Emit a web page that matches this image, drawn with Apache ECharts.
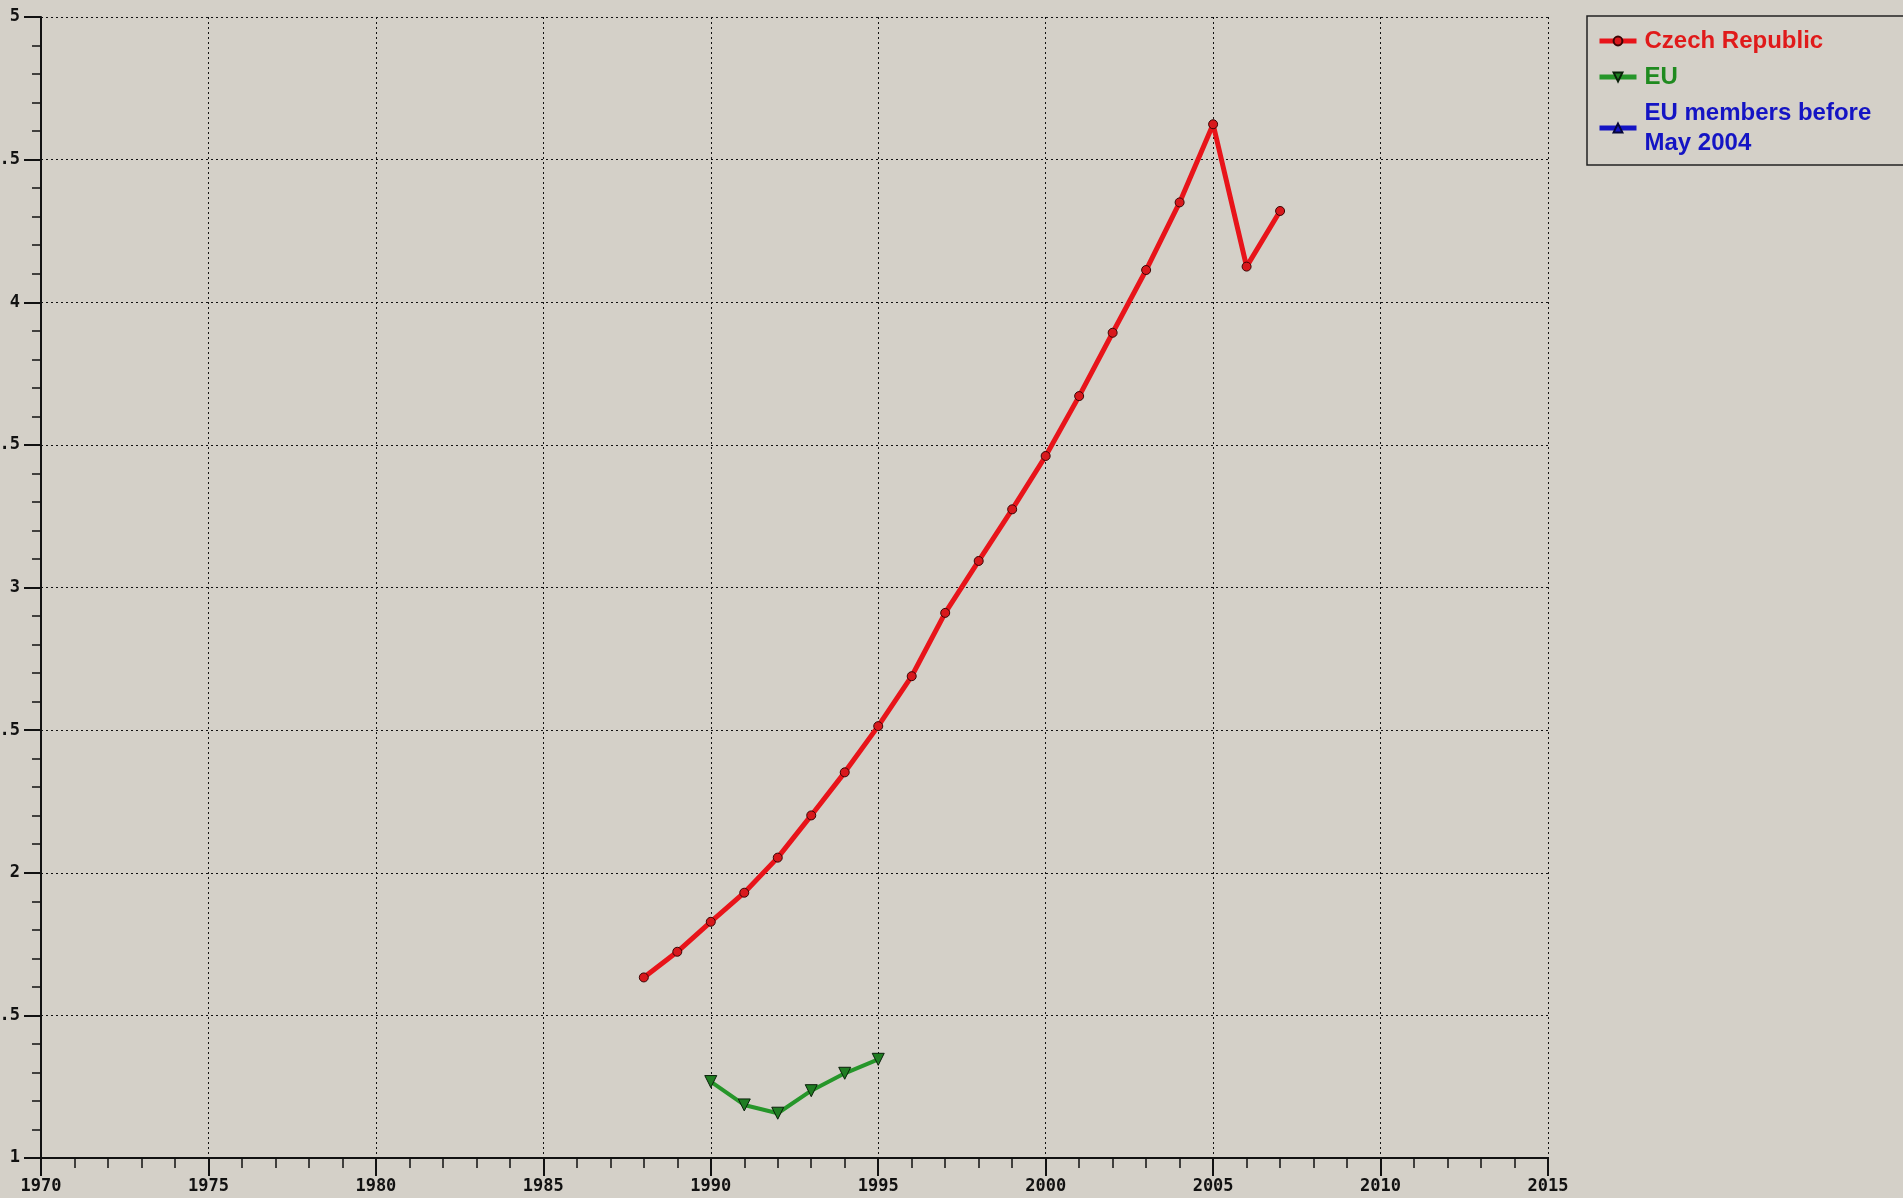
<!DOCTYPE html>
<html>
<head>
<meta charset="utf-8">
<script src="https://cdn.jsdelivr.net/npm/echarts@6/dist/echarts.min.js"></script>
<style>
  html, body { margin: 0; padding: 0; background: #d4d0c8; }
  #chart { width: 1903px; height: 1198px; }
</style>
</head>
<body>
<div id="chart"></div>
<script>
  // data
  const czechYears = [1988, 1989, 1990, 1991, 1992, 1993, 1994, 1995, 1996, 1997,
    1998, 1999, 2000, 2001, 2002, 2003, 2004, 2005, 2006, 2007]
  const czechValues = [1.633, 1.723, 1.828, 1.930, 2.053, 2.201, 2.352, 2.514, 2.689, 2.911,
    3.093, 3.274, 3.461, 3.671, 3.893, 4.113, 4.350, 4.624, 4.125, 4.320]
  const euYears = [1990, 1991, 1992, 1993, 1994, 1995]
  const euValues = [1.268, 1.186, 1.157, 1.236, 1.297, 1.346]
  const oldMemberYears = []
  const oldMemberValues = []
  const seriesNames = ['Czech Republic', 'EU', 'EU members before\nMay 2004']
  const textColors = ['#e01a1a', '#1f8a1f', '#1414c4']

  const pairs = (xs, ys) => xs.map((x, i) => [x, ys[i]])

  const axisFont = {
    fontFamily: 'DejaVu Sans Mono',
    fontWeight: 'bold',
    fontSize: 17,
    color: '#111'
  }
  const axisLine = { show: true, lineStyle: { color: '#111', width: 2 } }
  const gridLine = { show: true, lineStyle: { color: '#111', width: 1, type: [2, 3] } }

  // one rich style per legend entry so every name keeps its series colour
  const richStyles = {}
  textColors.forEach((c, i) => {
    richStyles['c' + i] = { color: c, fontFamily: 'Liberation Sans', fontWeight: 'bold', fontSize: 24, lineHeight: 30 }
  })

  let chart = echarts.init(document.getElementById('chart'))
  chart.setOption({
    backgroundColor: '#d4d0c8',
    animation: false,
    grid: { left: 41, right: 355, top: 17, bottom: 40, containLabel: false, outerBoundsMode: 'none' },
    legend: {
      orient: 'vertical',
      left: 1587,
      top: 16,
      padding: [10, 60, 7, 10],
      itemGap: 6,
      itemWidth: 37,
      itemHeight: 11,
      borderColor: '#222',
      borderWidth: 1.5,
      data: seriesNames,
      lineStyle: { width: 5 },
      formatter: name => {
        const k = 'c' + seriesNames.indexOf(name)
        return name.split('\n').map(s => '{' + k + '|' + s + '}').join('\n')
      },
      textStyle: {
        fontFamily: 'Liberation Sans',
        fontWeight: 'bold',
        fontSize: 24,
        lineHeight: 30,
        padding: [0, 0, 0, 3],
        rich: richStyles
      }
    },
    xAxis: {
      type: 'value',
      min: 1970,
      max: 2015,
      interval: 5,
      axisLine: axisLine,
      axisTick: { show: true, length: 18, lineStyle: { color: '#111', width: 2 } },
      minorTick: { show: true, splitNumber: 5, length: 10, lineStyle: { color: '#111', width: 1.5 } },
      axisLabel: Object.assign({ margin: 20, formatter: v => String(v) }, axisFont),
      splitLine: gridLine
    },
    yAxis: {
      type: 'value',
      min: 1,
      max: 5,
      interval: 0.5,
      axisLine: axisLine,
      axisTick: { show: true, length: 17, lineStyle: { color: '#111', width: 2 } },
      minorTick: { show: true, splitNumber: 5, length: 9, lineStyle: { color: '#111', width: 1.5 } },
      axisLabel: Object.assign({ margin: 21 }, axisFont),
      splitLine: gridLine
    },
    series: [
      {
        name: seriesNames[0],
        type: 'line',
        data: pairs(czechYears, czechValues),
        symbol: 'circle',
        symbolSize: 9,
        color: '#e3161b',
        lineStyle: { color: '#e8141a', width: 5 },
        itemStyle: { color: '#d8181c', borderColor: '#3a0505', borderWidth: 1 }
      },
      {
        name: seriesNames[1],
        type: 'line',
        data: pairs(euYears, euValues),
        symbol: 'triangle',
        symbolRotate: 180,
        symbolSize: 12,
        color: '#1f8a24',
        lineStyle: { color: '#26962a', width: 4 },
        itemStyle: { color: '#1f7d22', borderColor: '#0a200a', borderWidth: 1 }
      },
      {
        name: seriesNames[2],
        type: 'line',
        data: pairs(oldMemberYears, oldMemberValues),
        symbol: 'triangle',
        symbolSize: 12,
        color: '#1414c4',
        lineStyle: { color: '#1414c4', width: 4 },
        itemStyle: { color: '#1414c4', borderColor: '#05053a', borderWidth: 1 }
      }
    ]
  })
</script>
</body>
</html>
